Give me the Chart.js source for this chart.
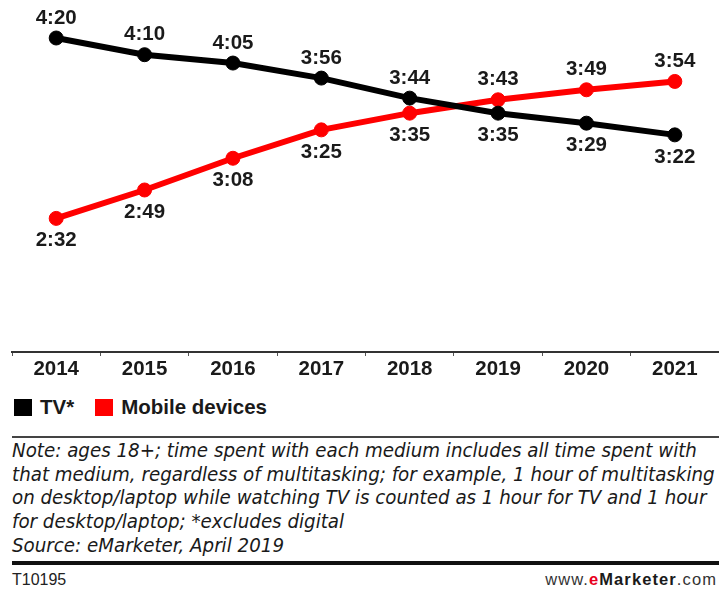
<!DOCTYPE html>
<html>
<head>
<meta charset="utf-8">
<script src="https://cdn.jsdelivr.net/npm/chart.js@4"></script>
<style>
  html, body { margin: 0; padding: 0; background: #fff; }
  body { width: 719px; height: 593px; position: relative; overflow: hidden; font-family: "Liberation Sans", Arial, sans-serif; color: #1a1a1a; }
  #wrap { position: absolute; left: 0; top: 0; width: 719px; height: 390px; }
  .legend { position: absolute; left: 14px; top: 395px; font-weight: bold; font-size: 20.5px; display: flex; align-items: center; }
  .legend span.box { display: inline-block; width: 18px; height: 17px; margin-right: 8px; }
  .legend .item { display: flex; align-items: center; }
  .rule-top { position: absolute; left: 12px; right: 0; top: 436px; height: 2px; background: #444; }
  .note { position: absolute; left: 12px; top: 439px; width: 707px; font-family: "DejaVu Sans Condensed", "DejaVu Sans", sans-serif; font-style: italic; font-size: 20.3px; line-height: 23.7px; color: #1a1a1a; white-space: nowrap; }
  .rule-bottom { position: absolute; left: 12px; right: 0; top: 561px; height: 4px; background: #111; }
  .code { position: absolute; left: 12px; top: 571px; font-size: 16px; color: #222; }
  .site { position: absolute; right: 2px; top: 570px; font-size: 16.5px; letter-spacing: 1.1px; color: #333; }
  .site b { font-weight: bold; color: #1a1a1a; }
  .site .e { color: #e8001c; }
</style>
</head>
<body>
<div id="wrap"><canvas id="chart"></canvas></div>

<div class="legend">
  <div class="item" style="margin-right:21px"><span class="box" style="background:#000"></span>TV*</div>
  <div class="item"><span class="box" style="background:#ff0000"></span>Mobile devices</div>
</div>

<div class="rule-top"></div>
<div class="note">
  Note: ages 18+; time spent with each medium includes all time spent with<br>
  that medium, regardless of multitasking; for example, 1 hour of multitasking<br>
  on desktop/laptop while watching TV is counted as 1 hour for TV and 1 hour<br>
  for desktop/laptop; *excludes digital<br>
  Source: eMarketer, April 2019
</div>
<div class="rule-bottom"></div>
<div class="code">T10195</div>
<div class="site">www.<b><span class="e">e</span>Marketer</b>.com</div>

<script>
// minutes per day
const years = ["2014", "2015", "2016", "2017", "2018", "2019", "2020", "2021"];
const tvMinutes = [260, 250, 245, 236, 224, 215, 209, 202];
const mobileMinutes = [152, 169, 188, 205, 215, 223, 229, 234];

function hhmm(m) {
  const h = Math.floor(m / 60);
  const mm = m % 60;
  return h + ":" + String(mm).padStart(2, "0");
}

// value labels: above the point when that line is the higher one, else below
const pointLabels = {
  id: "pointLabels",
  afterDatasetsDraw(chart) {
    const ctx = chart.ctx;
    const sets = chart.data.datasets;
    ctx.save();
    ctx.font = "bold 20.5px 'Liberation Sans', Arial, sans-serif";
    ctx.fillStyle = "#1a1a1a";
    ctx.textAlign = "center";
    ctx.textBaseline = "middle";
    sets.forEach((ds, i) => {
      const other = sets[1 - i].data;
      chart.getDatasetMeta(i).data.forEach((pt, j) => {
        const above = ds.data[j] > other[j];
        ctx.fillText(hhmm(ds.data[j]), pt.x, pt.y + (above ? -20 : 22));
      });
    });
    ctx.restore();
  }
};

new Chart(document.getElementById("chart"), {
  type: "line",
  data: {
    labels: years,
    datasets: [
      {
        label: "TV*",
        data: tvMinutes,
        borderColor: "#000",
        backgroundColor: "#000",
        borderWidth: 6,
        pointRadius: 7,
        pointBorderWidth: 1,
        tension: 0,
        clip: false,
      },
      {
        label: "Mobile devices",
        data: mobileMinutes,
        borderColor: "#ff0000",
        backgroundColor: "#ff0000",
        borderWidth: 6,
        pointRadius: 7,
        pointBorderWidth: 1,
        tension: 0,
        clip: false,
      },
    ],
  },
  options: {
    responsive: true,
    maintainAspectRatio: false,
    animation: false,
    layout: { autoPadding: false, padding: { top: 38, left: 12, right: 0, bottom: 0 } },
    plugins: {
      legend: { display: false },
      tooltip: { enabled: false },
    },
    scales: {
      y: { display: false, min: 72, max: 260 },
      x: {
        offset: true,
        afterFit(scale) { scale.height = 38; },
        grid: {
          offset: true,
          drawOnChartArea: false,
          tickLength: 4,
          color: "#555",
          lineWidth: 1,
        },
        border: { color: "#333", width: 2 },
        ticks: {
          padding: 1,
          color: "#1a1a1a",
          font: { family: "'Liberation Sans', Arial, sans-serif", size: 20.5, weight: "bold" },
        },
      },
    },
  },
  plugins: [pointLabels],
});
</script>
</body>
</html>
